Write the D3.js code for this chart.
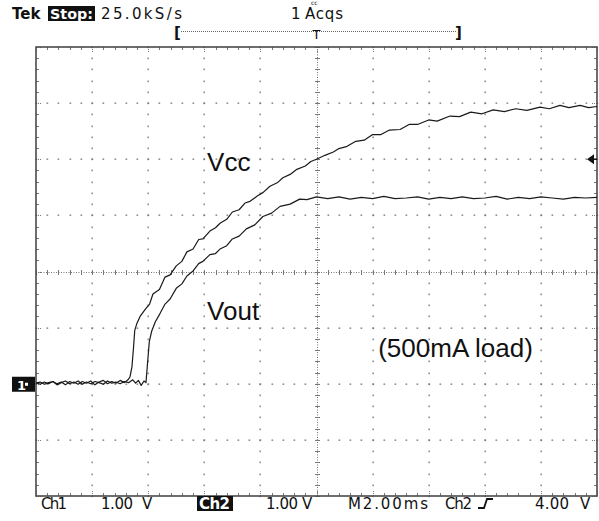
<!DOCTYPE html>
<html>
<head>
<meta charset="utf-8">
<script src="https://cdn.jsdelivr.net/npm/d3@7"></script>
<style>
  html, body { margin: 0; padding: 0; background: #fff; }
  svg { display: block; }
</style>
</head>
<body>
<svg id="scope" width="599" height="521"></svg>
<script>
// ---- DATA (time in ms, volts; 1 V/div, 2 ms/div) ----
const vccTime = [-10,-9.85,-9.7,-9.55,-9.4,-9.25,-9.1,-8.95,-8.8,-8.65,-8.5,-8.35,-8.2,-8.05,-7.9,-7.75,-7.6,-7.45,-7.3,-7.15,-7.0,-6.85,-6.72,-6.65,-6.58,-6.53,-6.48,-6.4,-6.29,-6.1,-5.95,-5.83,-5.6,-5.4,-5.22,-5.0,-4.8,-4.62,-4.4,-4.2,-4.05,-3.8,-3.6,-3.44,-3.2,-3.0,-2.76,-2.55,-2.37,-2.1,-1.9,-1.66,-1.4,-1.2,-0.94,-0.7,-0.4,-0.2,0,0.3,0.6,0.8,1.09,1.4,1.7,2.0,2.3,2.6,2.98,3.3,3.6,4.0,4.3,4.76,5.1,5.5,5.9,6.3,6.7,7.1,7.5,7.97,8.3,8.68,9.0,9.4,9.7,10];
const vccVolts = [0.02,-0.01,0.03,0.0,0.04,-0.02,0.02,0.05,0.0,0.03,-0.01,0.04,0.01,0.05,-0.02,0.03,0.06,0.0,0.04,0.01,0.06,0.02,0.07,0.12,0.3,0.6,0.95,1.08,1.2,1.33,1.42,1.6,1.68,1.9,1.94,2.1,2.18,2.35,2.4,2.57,2.58,2.72,2.78,2.86,2.93,3.06,3.1,3.22,3.25,3.35,3.41,3.52,3.58,3.67,3.73,3.82,3.88,3.96,4.0,4.07,4.13,4.19,4.23,4.32,4.34,4.44,4.44,4.52,4.53,4.62,4.62,4.7,4.68,4.77,4.76,4.84,4.81,4.88,4.85,4.9,4.87,4.93,4.9,4.96,4.92,4.96,4.92,4.94];

const voutTime = [-10,-9.85,-9.7,-9.55,-9.4,-9.25,-9.1,-8.95,-8.8,-8.65,-8.5,-8.35,-8.2,-8.05,-7.9,-7.75,-7.6,-7.45,-7.3,-7.15,-7.0,-6.85,-6.7,-6.55,-6.45,-6.35,-6.25,-6.15,-6.08,-6.05,-6.01,-5.96,-5.88,-5.75,-5.58,-5.4,-5.22,-5.0,-4.8,-4.62,-4.4,-4.2,-4.05,-3.8,-3.6,-3.44,-3.2,-3.0,-2.76,-2.5,-2.2,-1.91,-1.6,-1.3,-0.94,-0.6,-0.34,0,0.4,0.8,1.2,1.6,2.0,2.4,2.8,3.2,3.6,4.0,4.4,4.8,5.2,5.6,6.0,6.4,6.8,7.2,7.6,8.0,8.4,8.8,9.2,9.6,10];
const voutVolts = [0.01,0.03,-0.01,0.02,0.04,0.0,0.03,-0.02,0.04,0.01,0.05,-0.01,0.03,0.0,0.04,0.02,-0.01,0.05,0.01,0.03,0.0,0.04,0.02,0.07,0.01,0.06,-0.03,0.05,0.02,0.2,0.45,0.75,0.93,1.1,1.25,1.42,1.51,1.7,1.78,1.92,2.01,2.14,2.18,2.3,2.32,2.4,2.46,2.58,2.63,2.76,2.83,2.98,3.04,3.16,3.2,3.29,3.28,3.33,3.3,3.33,3.29,3.32,3.3,3.34,3.3,3.31,3.33,3.29,3.32,3.3,3.33,3.3,3.31,3.34,3.29,3.32,3.3,3.33,3.31,3.29,3.32,3.31,3.32];

const traceLabels = [
  { text: "Vcc",  t: -3.9, v: 3.79 },
  { text: "Vout", t: -3.9, v: 1.14 },
  { text: "(500mA load)", t: 2.2, v: 0.48 }
];

const xDivTicks = d3.range(-10, 10.001, 2);   // ms, major divisions
const yDivTicks = d3.range(-2, 6.001, 1);     // V, major divisions

// ---- LAYOUT ----
const svg = d3.select("#scope");
const pLeft = 36, pRight = 597, pTop = 47, pBottom = 496;
const x = d3.scaleLinear().domain([-10, 10]).range([pLeft, pRight]);
const y = d3.scaleLinear().domain([-2, 6]).range([pBottom, pTop]);
const gridCol = "#777";

// minor positions (1/5 division)
const xMinor = d3.range(0, 51).map(i => -10 + i * 0.4);
const yMinor = d3.range(0, 41).map(i => -2 + i * 0.2);

const g = svg.append("g");

// dotted major grid (dots at minor positions)
xDivTicks.forEach(t => {
  if (t === -10 || t === 10 || t === 0) return;
  yMinor.forEach(v => {
    g.append("rect").attr("x", Math.round(x(t)) - 0.5).attr("y", Math.round(y(v)) - 0.5)
      .attr("width", 1.3).attr("height", 1.7).attr("fill", gridCol);
  });
});
yDivTicks.forEach(v => {
  if (v === -2 || v === 6 || v === 2) return;
  xMinor.forEach(t => {
    g.append("rect").attr("x", Math.round(x(t)) - 0.5).attr("y", Math.round(y(v)) - 0.5)
      .attr("width", 1.7).attr("height", 1.3).attr("fill", gridCol);
  });
});

// center crosshair: fine dotted with minor ticks
g.append("line").attr("x1", x(-10)).attr("x2", x(10)).attr("y1", Math.round(y(2)) + 0.5).attr("y2", Math.round(y(2)) + 0.5)
  .attr("stroke", gridCol).attr("stroke-width", 1).attr("stroke-dasharray", "1,1.5");
g.append("line").attr("y1", y(6)).attr("y2", y(-2)).attr("x1", Math.round(x(0)) + 0.5).attr("x2", Math.round(x(0)) + 0.5)
  .attr("stroke", gridCol).attr("stroke-width", 1).attr("stroke-dasharray", "1,1.5");
xMinor.forEach(t => {
  g.append("line").attr("x1", Math.round(x(t)) + 0.5).attr("x2", Math.round(x(t)) + 0.5)
    .attr("y1", Math.round(y(2)) - 2).attr("y2", Math.round(y(2)) + 3).attr("stroke", gridCol).attr("stroke-width", 1);
});
yMinor.forEach(v => {
  g.append("line").attr("y1", Math.round(y(v)) + 0.5).attr("y2", Math.round(y(v)) + 0.5)
    .attr("x1", Math.round(x(0)) - 2).attr("x2", Math.round(x(0)) + 3).attr("stroke", gridCol).attr("stroke-width", 1);
});

// frame ticks (inward)
xMinor.forEach(t => {
  const major = xDivTicks.some(m => Math.abs(m - t) < 1e-6);
  const len = major ? 6 : 3;
  g.append("line").attr("x1", Math.round(x(t)) + 0.5).attr("x2", Math.round(x(t)) + 0.5)
    .attr("y1", pTop).attr("y2", pTop + len).attr("stroke", gridCol).attr("stroke-width", 1)
    .attr("stroke-dasharray", major ? "1,1" : null);
  g.append("line").attr("x1", Math.round(x(t)) + 0.5).attr("x2", Math.round(x(t)) + 0.5)
    .attr("y1", pBottom).attr("y2", pBottom - len).attr("stroke", gridCol).attr("stroke-width", 1)
    .attr("stroke-dasharray", major ? "1,1" : null);
});
yMinor.forEach(v => {
  const major = yDivTicks.some(m => Math.abs(m - v) < 1e-6);
  const len = major ? 6 : 3;
  g.append("line").attr("y1", Math.round(y(v)) + 0.5).attr("y2", Math.round(y(v)) + 0.5)
    .attr("x1", pLeft).attr("x2", pLeft + len).attr("stroke", gridCol).attr("stroke-width", 1)
    .attr("stroke-dasharray", major ? "1,1" : null);
  g.append("line").attr("y1", Math.round(y(v)) + 0.5).attr("y2", Math.round(y(v)) + 0.5)
    .attr("x1", pRight).attr("x2", pRight - len).attr("stroke", gridCol).attr("stroke-width", 1)
    .attr("stroke-dasharray", major ? "1,1" : null);
});

// frame
g.append("rect").attr("x", pLeft).attr("y", pTop).attr("width", pRight - pLeft).attr("height", pBottom - pTop)
  .attr("fill", "none").attr("stroke", "#4a4a4a").attr("stroke-width", 1.6);

// ---- TRACES ----
const line = d3.line().x(d => x(d[0])).y(d => y(d[1]));
const vccData = vccTime.map((t, i) => [t, vccVolts[i]]);
const voutData = voutTime.map((t, i) => [t, voutVolts[i]]);
svg.append("path").datum(voutData).attr("d", line).attr("fill", "none")
  .attr("stroke", "#1a1a1a").attr("stroke-width", 1.2).attr("stroke-linejoin", "round");
svg.append("path").datum(vccData).attr("d", line).attr("fill", "none")
  .attr("stroke", "#1a1a1a").attr("stroke-width", 1.2).attr("stroke-linejoin", "round");

// labels in plot
svg.selectAll("text.lbl").data(traceLabels).join("text").attr("class", "lbl")
  .attr("x", d => x(d.t)).attr("y", d => y(d.v))
  .attr("font-family", "Liberation Sans, Arial, sans-serif").attr("font-size", 26)
  .attr("fill", "#111").text(d => d.text);

// ground marker (channel 1 at 0 V)
const gy = y(0);
svg.append("rect").attr("x", 12).attr("y", gy - 7).attr("width", 23).attr("height", 15).attr("fill", "#111");
svg.append("text").attr("x", 17).attr("y", gy + 6).attr("font-family", "DejaVu Sans, sans-serif")
  .attr("font-size", 13).attr("font-weight", "bold").attr("fill", "#fff").text("1");
svg.append("rect").attr("x", 25).attr("y", gy - 1).attr("width", 3).attr("height", 3).attr("fill", "#fff");

// trigger level arrow (Ch2, 4.00 V)
const ty = y(4);
svg.append("path").attr("d", `M${pRight - 10},${ty} L${pRight - 3},${ty - 5} L${pRight - 3},${ty + 5} Z`).attr("fill", "#111");
svg.append("line").attr("x1", pRight - 4).attr("x2", pRight).attr("y1", ty).attr("y2", ty).attr("stroke", "#111").attr("stroke-width", 1.5);

// ---- HEADER ----
const tf = "DejaVu Sans, Verdana, sans-serif";
svg.append("text").attr("x", 12).attr("y", 19).attr("font-family", tf).attr("font-size", 15)
  .attr("font-weight", "bold").attr("fill", "#111").text("Tek");
svg.append("rect").attr("x", 48).attr("y", 6).attr("width", 47).attr("height", 15).attr("fill", "#111");
svg.append("text").attr("x", 50).attr("y", 18.5).attr("font-family", tf).attr("font-size", 14)
  .attr("font-weight", "bold").attr("fill", "#fff").attr("textLength", 43).attr("lengthAdjust", "spacingAndGlyphs").text("Stop:");
svg.append("text").attr("x", 101).attr("y", 19).attr("font-family", tf).attr("font-size", 15)
  .attr("fill", "#111").attr("textLength", 81).text("25.0kS/s");
svg.append("text").attr("x", 291).attr("y", 19).attr("font-family", tf).attr("font-size", 15)
  .attr("fill", "#111").text("1");
svg.append("text").attr("x", 305).attr("y", 19).attr("font-family", tf).attr("font-size", 15)
  .attr("fill", "#111").attr("textLength", 38).text("Acqs");
svg.append("text").attr("x", 311).attr("y", 5.4).attr("font-family", tf).attr("font-size", 6)
  .attr("fill", "#111").text("cc");

// acquisition bracket
svg.append("text").attr("x", 174).attr("y", 38).attr("font-family", tf).attr("font-size", 15)
  .attr("font-weight", "bold").attr("fill", "#111").text("[");
svg.append("text").attr("x", 455).attr("y", 38).attr("font-family", tf).attr("font-size", 15)
  .attr("font-weight", "bold").attr("fill", "#111").text("]");
svg.append("line").attr("x1", 181).attr("x2", 456).attr("y1", 31.5).attr("y2", 31.5)
  .attr("stroke", "#666").attr("stroke-width", 1).attr("stroke-dasharray", "1,1");
svg.append("text").attr("x", x(0)).attr("y", 39).attr("text-anchor", "middle").attr("font-family", tf)
  .attr("font-size", 13).attr("fill", "#111").text("T");

// ---- FOOTER ----
const fy = 509;
const foot = (txt, xx, w) => {
  const t = svg.append("text").attr("x", xx).attr("y", fy).attr("font-family", tf).attr("font-size", 15)
    .attr("fill", "#111").text(txt);
  if (w) t.attr("textLength", w).attr("lengthAdjust", "spacing");
  return t;
};
foot("Ch1", 41, 26);
foot("1.00", 101, 32);
foot("V", 142, 13);
svg.append("rect").attr("x", 197).attr("y", 496).attr("width", 36).attr("height", 15).attr("fill", "#111");
foot("Ch2", 199, 31).attr("fill", "#fff").attr("font-weight", "bold");
foot("1.00", 266, 32);
foot("V", 302, 10);
foot("M2.00ms", 348, 80);
foot("Ch2", 445, 27);
svg.append("path").attr("d", "M478,508 L484,508 L487,499 L493,499").attr("fill", "none")
  .attr("stroke", "#111").attr("stroke-width", 1.8);
foot("4.00", 535, 34);
foot("V", 580, 13);
</script>
</body>
</html>
